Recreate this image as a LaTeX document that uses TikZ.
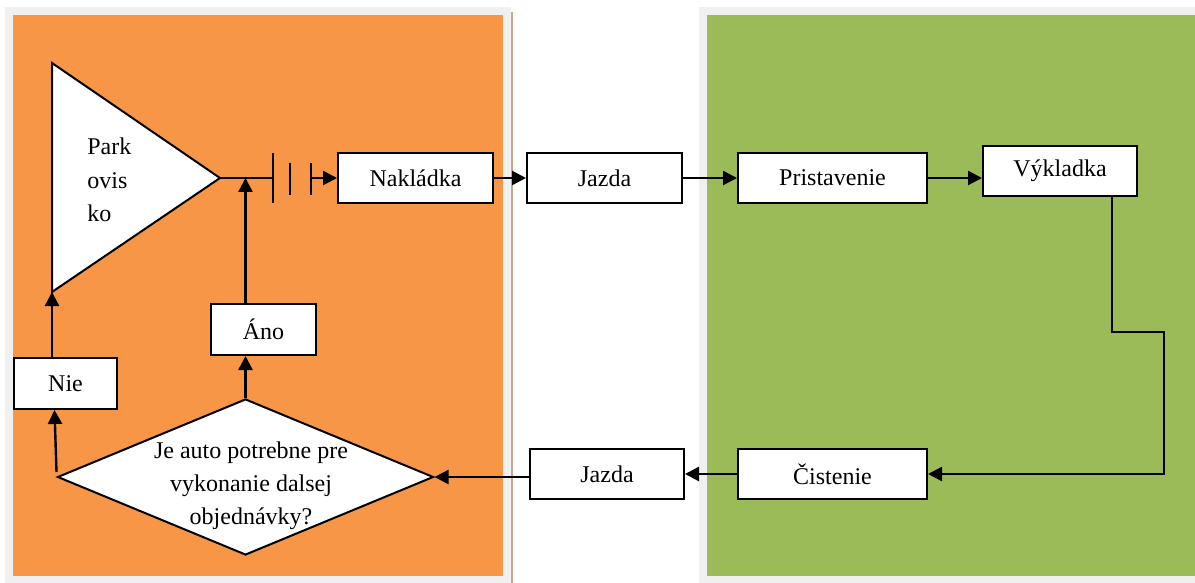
\documentclass[tikz,border=0pt]{standalone}
\usepackage{fontspec}
\setmainfont{Liberation Serif}
\usetikzlibrary{arrows.meta,shapes.geometric}
\definecolor{panelorange}{HTML}{F79646}
\definecolor{panelgreen}{HTML}{9BBB59}
\definecolor{panelframe}{HTML}{F0F0F0}
\definecolor{paneledge}{HTML}{CDA58A}

\begin{document}
\begin{tikzpicture}[x=0.5pt,y=-0.5pt,
    box/.style={draw,fill=white,line width=1pt,minimum height=25pt,inner sep=0pt,font=\fontsize{12}{14}\selectfont},
    arr/.style={line width=1.2pt,-{Triangle[length=7pt,width=7pt]}},
    wire/.style={line width=1.2pt}]
    \useasboundingbox (0,0) rectangle (1195,583);
    % panels
    \fill[panelframe] (5,7) rectangle (511,583);
    \fill[panelorange] (13,15) rectangle (503,576);
    \draw[paneledge,line width=1pt] (512,12) -- (512,583);
    \fill[panelframe] (699,7) rectangle (1195,583);
    \fill[panelgreen] (707,15) rectangle (1195,576);

    % parkovisko
    \coordinate (ptop) at (52,63);
    \coordinate (ptip) at (220,178);
    \coordinate (pbot) at (52,292);
    \fill[white,draw=black,line width=1pt] (ptop) -- (ptip) -- (pbot) -- cycle;
    \node[right,align=left,inner sep=0pt,font=\fontsize{12}{16.75}\selectfont] (park) at (87,180) {Park\\ovis\\ko};

    % prerusenie
    \coordinate (b1) at (273,178);
    \coordinate (b3) at (311,178);
    \draw[wire] (ptip) -- (b1);
    \draw[wire] (273,153) -- (273,203);
    \foreach \x in {290,311} \draw[wire] (\x,163) -- (\x,195);

    % horny rad
    \node[box,minimum width=77.5pt] (nakl) at (415.5,178) {Nakládka};
    \node[box,minimum width=77.5pt] (jazda1) at (604.5,178) {Jazda};
    \node[box,minimum width=94.5pt] (prist) at (832.5,178) {Pristavenie};
    \node[box,minimum width=77pt] (vykl) at (1060,171) {Výkladka};

    % dolny rad
    \node[box,minimum width=94.5pt] (cist) at (832.5,474) {Čistenie};
    \node[box,minimum width=77pt] (jazda2) at (607,474) {Jazda};

    % rozhodnutie
    \node[diamond,draw,fill=white,line width=1pt,minimum width=188pt,minimum height=78pt,inner sep=0pt] (dec) at (245.5,477) {};
    \node[align=center,inner sep=0pt,font=\fontsize{12}{16.5}\selectfont] (dectext) at (251,486) {Je auto potrebne pre\\vykonanie dalsej\\objednávky?};
    \node[box,minimum width=52.5pt,minimum height=25.5pt] (ano) at (263.5,329.5) {Áno};
    \node[box,minimum width=51.5pt,minimum height=25.5pt] (nie) at (65.5,383.5) {Nie};

    % sipky
    \draw[arr] (b3) -- (nakl);
    \draw[arr] (nakl) -- (jazda1);
    \draw[arr] (jazda1) -- (prist);
    \draw[arr] (prist.east) -- (prist.east -| vykl.west);
    \coordinate (k1) at (1112,332);
    \coordinate (k2) at (1164,332);
    \draw[arr] (k1 |- vykl.south) -- (k1) -- (k2) -- (k2 |- cist.east) -- (cist.east);
    \draw[arr] (cist) -- (jazda2);
    \draw[arr] (jazda2.west |- dec.east) -- (dec.east);
    \draw[arr] (dec.north) -- (dec.north |- ano.south);
    \draw[arr] (dec.north |- ano.north) -- (dec.north |- ptip);
    \draw[arr] ([yshift=2.5pt]dec.west) -- ([xshift=-1pt]dec.west |- nie.south);
    \draw[arr] (pbot |- nie.north) -- (pbot);
\end{tikzpicture}
\end{document}
